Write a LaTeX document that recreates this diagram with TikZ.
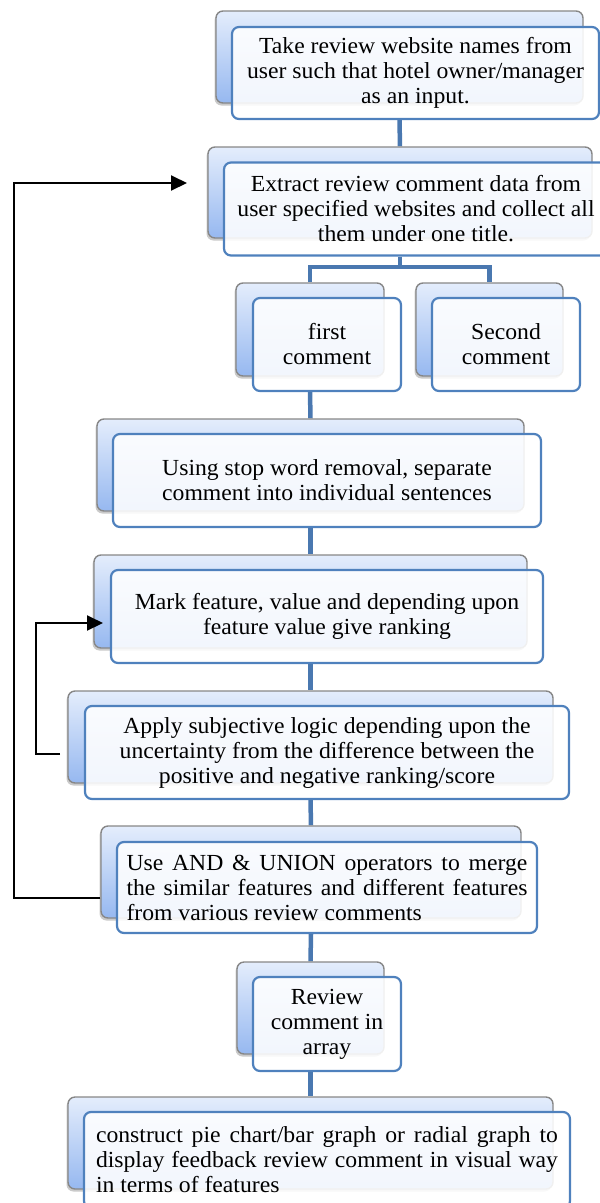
\documentclass[tikz,border=0pt]{standalone}
\usepackage{fontspec}
\setmainfont{Liberation Serif}[FakeStretch=1.03]
\usetikzlibrary{arrows.meta,shadows,backgrounds}
\definecolor{connc}{RGB}{74,120,176}
\definecolor{fborder}{RGB}{79,129,189}
\definecolor{bborder}{RGB}{135,135,135}
\definecolor{btop}{RGB}{228,237,252}
\definecolor{bbot}{RGB}{150,184,240}
\tikzset{
  backbox/.style={draw=bborder, line width=1.4pt, rounded corners=7pt,
    top color=btop, bottom color=bbot, inner sep=0pt,
    drop shadow={shadow xshift=-1.5pt, shadow yshift=-2.5pt, opacity=0.35, fill=black!60}},
  frontbox/.style={draw=fborder, line width=2.2pt, rounded corners=7pt,
    fill=white, fill opacity=0.88, text opacity=1, inner sep=0pt, align=center,
    font=\fontsize{23}{25}\selectfont},
  connline/.style={draw=connc, line width=4.5pt, line join=miter},
  fbline/.style={draw=black, line width=2pt, line join=miter,
    -{Triangle[length=16pt,width=15pt]}},
}
\begin{document}
\begin{tikzpicture}[x=1pt,y=-1pt]
\useasboundingbox (0,0) rectangle (600,1203);
% step 1
\node[backbox, minimum width=367pt, minimum height=92pt] (b1) at (399.5,57) {};
\node[frontbox, minimum width=367pt, minimum height=92pt] (f1) at (415.5,73)
  {Take review website names from\\user such that hotel owner/manager\\as an input.};
% step 2
\node[backbox, minimum width=384pt, minimum height=91pt] (b2) at (400,192.5) {};
\node[frontbox, minimum width=384pt, minimum height=93pt] (f2) at (416,209)
  {Extract review comment data from\\user specified websites and collect all\\them under one title.};
% comments
\node[backbox, minimum width=148pt, minimum height=93pt] (b3a) at (310,329.5) {};
\node[frontbox, minimum width=148pt, minimum height=93pt] (f3a) at (327,344.5)
  {first\\comment};
\node[backbox, minimum width=147pt, minimum height=93pt] (b3b) at (489.5,329.5) {};
\node[frontbox, minimum width=148pt, minimum height=93pt] (f3b) at (506,344.5)
  {Second\\comment};
% step 4
\node[backbox, minimum width=427pt, minimum height=92pt] (b4) at (310.5,465) {};
\node[frontbox, minimum width=428pt, minimum height=93pt] (f4) at (327,480.5)
  {Using stop word removal, separate\\comment into individual sentences};
% step 5
\node[backbox, minimum width=433pt, minimum height=93pt] (b5) at (310.5,601.5) {};
\node[frontbox, minimum width=432pt, minimum height=93pt] (f5) at (327,616.5)
  {Mark feature, value and depending upon\\feature value give ranking};
% step 6
\node[backbox, minimum width=485pt, minimum height=92pt] (b6) at (310.5,737) {};
\node[frontbox, minimum width=484pt, minimum height=93pt] (f6) at (327,752.5)
  {Apply subjective logic depending upon the\\uncertainty from the difference between the\\positive and negative ranking/score};
% step 7
\node[backbox, minimum width=420pt, minimum height=92pt] (b7) at (311,872) {};
\node[frontbox, align=left, minimum width=420pt, minimum height=91pt] (f7) at (327,887.5)
  {\makebox[401pt][s]{Use AND \& UNION operators to merge}\\
   \makebox[401pt][s]{the similar features and different features}\\
   from various review comments};
% step 8
\node[backbox, minimum width=147pt, minimum height=92pt] (b8) at (310.5,1008) {};
\node[frontbox, minimum width=148pt, minimum height=94pt] (f8) at (327,1024)
  {Review\\comment in\\array};
% step 9
\node[backbox, minimum width=485pt, minimum height=92pt] (b9) at (310.5,1143) {};
\node[frontbox, align=left, minimum width=486pt, minimum height=96pt] (f9) at (327,1160)
  {\makebox[462pt][s]{construct pie chart/bar graph or radial graph to}\\
   \makebox[462pt][s]{display feedback review comment in visual way}\\
   in terms of features};
% connectors
\begin{scope}[on background layer]
  \coordinate (br) at (400,267);
  \draw[connline] (b1.south |- f1.south) -- (b2.north);
  \draw[connline] (b2.south |- f2.south) -- (br);
  \draw[connline] (b3a.north) -- (b3a.north |- br) -- (b3b.north |- br) -- (b3b.north);
  \draw[connline] (b3a.south |- f3a.south) -- (b4.north);
  \draw[connline] (b4.south |- f4.south) -- (b5.north);
  \draw[connline] (b5.south |- f5.south) -- (b6.north);
  \draw[connline] (b6.south |- f6.south) -- (b7.north);
  \draw[connline] (b7.south |- f7.south) -- (b8.north);
  \draw[connline] (b8.south |- f8.south) -- (b9.north);
\end{scope}
% feedback loops
\coordinate (oA) at (14,898);
\coordinate (oB) at (14,183);
\coordinate (oC) at (187,183);
\draw[fbline] (b7.west |- oA) -- (oA) -- (oB) -- (oC);
\coordinate (iA) at (60,754);
\coordinate (iB) at (36,754);
\coordinate (iC) at (36,623);
\coordinate (iD) at (103,623);
\draw[fbline] (iA) -- (iB) -- (iC) -- (iD);
\end{tikzpicture}
\end{document}
